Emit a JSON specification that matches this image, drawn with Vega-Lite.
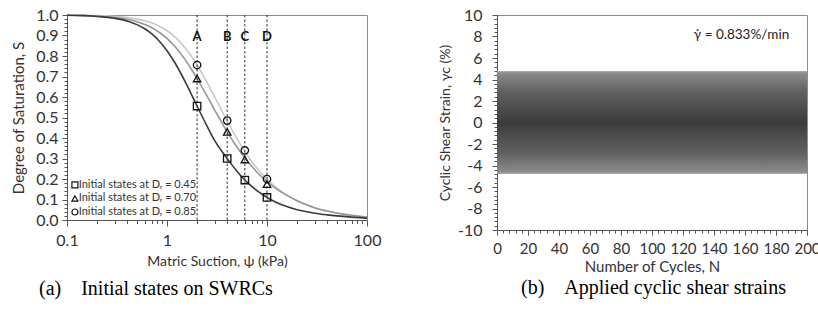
{
  "$schema": "https://vega.github.io/schema/vega-lite/v6.json",
  "background": "white",
  "padding": {"left": 11, "top": 6, "right": 0, "bottom": 0},
  "config": {
    "font": "Lato",
    "view": {"stroke": "#8c8c8c", "strokeWidth": 1},
    "concat": {"spacing": 55},
    "axis": {"grid": false, "labelFont": "Lato", "titleFont": "Lato", "labelColor": "#333", "titleColor": "#333", "titleFontWeight": "normal", "domainColor": "#555", "tickColor": "#555", "labelFlush": false},
    "title": {"font": "Liberation Serif", "fontWeight": "normal", "color": "#000", "fontSize": 20}
  },
  "datasets": {
    "curves": [
      {"Dr": "0.85", "psi": 0.1, "S": 0.999}, {"Dr": "0.85", "psi": 0.15, "S": 0.998}, {"Dr": "0.85", "psi": 0.2, "S": 0.997}, {"Dr": "0.85", "psi": 0.3, "S": 0.993}, {"Dr": "0.85", "psi": 0.4, "S": 0.988}, {"Dr": "0.85", "psi": 0.5, "S": 0.98}, {"Dr": "0.85", "psi": 0.6, "S": 0.972}, {"Dr": "0.85", "psi": 0.7, "S": 0.962}, {"Dr": "0.85", "psi": 0.8, "S": 0.95}, {"Dr": "0.85", "psi": 1, "S": 0.923}, {"Dr": "0.85", "psi": 1.2, "S": 0.893}, {"Dr": "0.85", "psi": 1.5, "S": 0.843}, {"Dr": "0.85", "psi": 1.8, "S": 0.791}, {"Dr": "0.85", "psi": 2, "S": 0.756}, {"Dr": "0.85", "psi": 2.5, "S": 0.673}, {"Dr": "0.85", "psi": 3, "S": 0.6}, {"Dr": "0.85", "psi": 3.5, "S": 0.536}, {"Dr": "0.85", "psi": 4, "S": 0.482}, {"Dr": "0.85", "psi": 5, "S": 0.397}, {"Dr": "0.85", "psi": 6, "S": 0.334}, {"Dr": "0.85", "psi": 7, "S": 0.287}, {"Dr": "0.85", "psi": 8, "S": 0.251}, {"Dr": "0.85", "psi": 10, "S": 0.199}, {"Dr": "0.85", "psi": 12, "S": 0.164}, {"Dr": "0.85", "psi": 15, "S": 0.129}, {"Dr": "0.85", "psi": 20, "S": 0.094}, {"Dr": "0.85", "psi": 25, "S": 0.073}, {"Dr": "0.85", "psi": 30, "S": 0.059}, {"Dr": "0.85", "psi": 40, "S": 0.043}, {"Dr": "0.85", "psi": 50, "S": 0.033}, {"Dr": "0.85", "psi": 70, "S": 0.022}, {"Dr": "0.85", "psi": 100, "S": 0.014},
      {"Dr": "0.70", "psi": 0.1, "S": 0.999}, {"Dr": "0.70", "psi": 0.15, "S": 0.997}, {"Dr": "0.70", "psi": 0.2, "S": 0.995}, {"Dr": "0.70", "psi": 0.3, "S": 0.988}, {"Dr": "0.70", "psi": 0.4, "S": 0.979}, {"Dr": "0.70", "psi": 0.5, "S": 0.967}, {"Dr": "0.70", "psi": 0.6, "S": 0.954}, {"Dr": "0.70", "psi": 0.7, "S": 0.939}, {"Dr": "0.70", "psi": 0.8, "S": 0.922}, {"Dr": "0.70", "psi": 1, "S": 0.886}, {"Dr": "0.70", "psi": 1.2, "S": 0.846}, {"Dr": "0.70", "psi": 1.5, "S": 0.786}, {"Dr": "0.70", "psi": 1.8, "S": 0.727}, {"Dr": "0.70", "psi": 2, "S": 0.69}, {"Dr": "0.70", "psi": 2.5, "S": 0.607}, {"Dr": "0.70", "psi": 3, "S": 0.536}, {"Dr": "0.70", "psi": 3.5, "S": 0.479}, {"Dr": "0.70", "psi": 4, "S": 0.43}, {"Dr": "0.70", "psi": 5, "S": 0.356}, {"Dr": "0.70", "psi": 6, "S": 0.303}, {"Dr": "0.70", "psi": 7, "S": 0.263}, {"Dr": "0.70", "psi": 8, "S": 0.232}, {"Dr": "0.70", "psi": 10, "S": 0.187}, {"Dr": "0.70", "psi": 12, "S": 0.157}, {"Dr": "0.70", "psi": 15, "S": 0.126}, {"Dr": "0.70", "psi": 20, "S": 0.094}, {"Dr": "0.70", "psi": 25, "S": 0.074}, {"Dr": "0.70", "psi": 30, "S": 0.06}, {"Dr": "0.70", "psi": 40, "S": 0.044}, {"Dr": "0.70", "psi": 50, "S": 0.034}, {"Dr": "0.70", "psi": 70, "S": 0.023}, {"Dr": "0.70", "psi": 100, "S": 0.015},
      {"Dr": "0.45", "psi": 0.1, "S": 0.999}, {"Dr": "0.45", "psi": 0.15, "S": 0.997}, {"Dr": "0.45", "psi": 0.2, "S": 0.993}, {"Dr": "0.45", "psi": 0.3, "S": 0.984}, {"Dr": "0.45", "psi": 0.4, "S": 0.971}, {"Dr": "0.45", "psi": 0.5, "S": 0.953}, {"Dr": "0.45", "psi": 0.6, "S": 0.933}, {"Dr": "0.45", "psi": 0.7, "S": 0.909}, {"Dr": "0.45", "psi": 0.8, "S": 0.883}, {"Dr": "0.45", "psi": 1, "S": 0.826}, {"Dr": "0.45", "psi": 1.2, "S": 0.767}, {"Dr": "0.45", "psi": 1.5, "S": 0.68}, {"Dr": "0.45", "psi": 1.8, "S": 0.602}, {"Dr": "0.45", "psi": 2, "S": 0.556}, {"Dr": "0.45", "psi": 2.5, "S": 0.46}, {"Dr": "0.45", "psi": 3, "S": 0.387}, {"Dr": "0.45", "psi": 3.5, "S": 0.338}, {"Dr": "0.45", "psi": 4, "S": 0.3}, {"Dr": "0.45", "psi": 5, "S": 0.238}, {"Dr": "0.45", "psi": 6, "S": 0.195}, {"Dr": "0.45", "psi": 7, "S": 0.165}, {"Dr": "0.45", "psi": 8, "S": 0.142}, {"Dr": "0.45", "psi": 10, "S": 0.11}, {"Dr": "0.45", "psi": 12, "S": 0.089}, {"Dr": "0.45", "psi": 15, "S": 0.069}, {"Dr": "0.45", "psi": 20, "S": 0.05}, {"Dr": "0.45", "psi": 25, "S": 0.04}, {"Dr": "0.45", "psi": 30, "S": 0.033}, {"Dr": "0.45", "psi": 40, "S": 0.025}, {"Dr": "0.45", "psi": 50, "S": 0.02}, {"Dr": "0.45", "psi": 70, "S": 0.014}, {"Dr": "0.45", "psi": 100, "S": 0.009}
    ],
    "states": [
      {"state": "Initial states at Dᵣ = 0.45", "psi": 2, "S": 0.556}, {"state": "Initial states at Dᵣ = 0.45", "psi": 4, "S": 0.3}, {"state": "Initial states at Dᵣ = 0.45", "psi": 6, "S": 0.195}, {"state": "Initial states at Dᵣ = 0.45", "psi": 10, "S": 0.11},
      {"state": "Initial states at Dᵣ = 0.70", "psi": 2, "S": 0.69}, {"state": "Initial states at Dᵣ = 0.70", "psi": 4, "S": 0.43}, {"state": "Initial states at Dᵣ = 0.70", "psi": 6, "S": 0.295}, {"state": "Initial states at Dᵣ = 0.70", "psi": 10, "S": 0.175},
      {"state": "Initial states at Dᵣ = 0.85", "psi": 2, "S": 0.756}, {"state": "Initial states at Dᵣ = 0.85", "psi": 4, "S": 0.485}, {"state": "Initial states at Dᵣ = 0.85", "psi": 6, "S": 0.34}, {"state": "Initial states at Dᵣ = 0.85", "psi": 10, "S": 0.2}
    ],
    "legendRows": [
      {"state": "Initial states at Dᵣ = 0.45", "lx": 0.12, "tx": 0.131, "ly": 0.171},
      {"state": "Initial states at Dᵣ = 0.70", "lx": 0.12, "tx": 0.131, "ly": 0.105},
      {"state": "Initial states at Dᵣ = 0.85", "lx": 0.12, "tx": 0.131, "ly": 0.039}
    ],
    "marks": [
      {"psi": 2, "label": "A"}, {"psi": 4, "label": "B"}, {"psi": 6, "label": "C"}, {"psi": 10, "label": "D"}
    ]
  },
  "hconcat": [
    {
      "width": 300,
      "height": 205,
      "title": {"text": "(a)\u2003Initial states on SWRCs", "orient": "bottom", "anchor": "start", "frame": "group", "dx": -28, "offset": 11},
      "resolve": {"axis": {"x": "independent", "y": "independent"}},
      "layer": [
        {
          "data": {"name": "curves"},
          "mark": {"type": "line", "strokeWidth": 1.6, "interpolate": "monotone"},
          "encoding": {
            "x": {"field": "psi", "type": "quantitative", "scale": {"type": "log", "domain": [0.1, 100]},
              "axis": {"orient": "bottom", "title": "Matric Suction, ψ (kPa)", "titleFontSize": 14, "titlePadding": 6, "labelFontSize": 16, "labelPadding": 6, "labelFlush": false,
                "values": [0.1, 1, 10, 100], "format": "~g", "tickSize": 6}},
            "y": {"field": "S", "type": "quantitative", "scale": {"domain": [0, 1]},
              "axis": {"orient": "left", "title": "Degree of Saturation, S", "titleFontSize": 15, "titlePadding": 9, "labelFontSize": 16, "labelPadding": 4,
                "values": [0,0.1,0.2,0.3,0.4,0.5,0.6,0.7,0.8,0.9,1], "format": ".1f", "tickSize": 5}},
            "color": {"field": "Dr", "type": "nominal", "scale": {"domain": ["0.85", "0.70", "0.45"], "range": ["#c9c9c9", "#979797", "#3a3a3a"]}, "legend": null}
          }
        },
        {
          "data": {"name": "marks"},
          "mark": {"type": "rule", "color": "#333", "strokeDash": [2.5, 2], "strokeWidth": 1},
          "encoding": {"x": {"field": "psi", "type": "quantitative",
            "axis": {"orient": "bottom", "title": null, "labels": false, "domain": false, "tickSize": 3.5,
              "values": [0.2,0.3,0.4,0.5,0.6,0.7,0.8,0.9,2,3,4,5,6,7,8,9,20,30,40,50,60,70,80,90]}}}
        },
        {
          "data": {"name": "marks"},
          "mark": {"type": "text", "fontWeight": "bold", "fontSize": 13, "color": "#111"},
          "encoding": {"x": {"field": "psi", "type": "quantitative", "axis": null},
            "y": {"datum": 0.895, "type": "quantitative",
              "axis": {"orient": "left", "title": null, "labels": false, "domain": false, "tickSize": 3,
                "values": [0,0.02,0.04,0.06,0.08,0.1,0.12,0.14,0.16,0.18,0.2,0.22,0.24,0.26,0.28,0.3,0.32,0.34,0.36,0.38,0.4,0.42,0.44,0.46,0.48,0.5,0.52,0.54,0.56,0.58,0.6,0.62,0.64,0.66,0.68,0.7,0.72,0.74,0.76,0.78,0.8,0.82,0.84,0.86,0.88,0.9,0.92,0.94,0.96,0.98,1]}},
            "text": {"field": "label"}}
        },
        {
          "data": {"name": "states"},
          "mark": {"type": "point", "filled": false, "color": "#111", "strokeWidth": 1.3, "size": 55, "opacity": 1},
          "encoding": {
            "x": {"field": "psi", "type": "quantitative", "axis": null},
            "y": {"field": "S", "type": "quantitative", "axis": null},
            "shape": {"field": "state", "type": "nominal",
              "scale": {"domain": ["Initial states at Dᵣ = 0.45", "Initial states at Dᵣ = 0.70", "Initial states at Dᵣ = 0.85"], "range": ["square", "triangle-up", "circle"]},
              "legend": null}
          }
        },
        {
          "data": {"name": "legendRows"},
          "mark": {"type": "point", "filled": false, "color": "#111", "strokeWidth": 1.2, "size": 36, "opacity": 1},
          "encoding": {
            "x": {"field": "lx", "type": "quantitative", "axis": null},
            "y": {"field": "ly", "type": "quantitative", "axis": null},
            "shape": {"field": "state", "type": "nominal", "legend": null}
          }
        },
        {
          "data": {"name": "legendRows"},
          "mark": {"type": "text", "align": "left", "baseline": "middle", "fontSize": 11, "color": "#333"},
          "encoding": {
            "x": {"field": "tx", "type": "quantitative", "axis": null},
            "y": {"field": "ly", "type": "quantitative", "axis": null},
            "text": {"field": "state"}
          }
        }
      ]
    },
    {
      "width": 310,
      "height": 215,
      "title": {"text": "(b)\u2003Applied cyclic shear strains", "orient": "bottom", "anchor": "start", "frame": "group", "dx": 24, "offset": 4},
      "resolve": {"axis": {"x": "independent", "y": "independent"}},
      "layer": [
        {
          "data": {"values": [{"n0": 0, "n1": 200, "lo": -4.8, "hi": 4.8}]},
          "mark": {"type": "rect", "color": {"gradient": "linear", "x1": 0, "y1": 0, "x2": 0, "y2": 1,
            "stops": [{"offset": 0, "color": "#b4b4b4"}, {"offset": 0.02, "color": "#8c8c8c"}, {"offset": 0.2, "color": "#616161"}, {"offset": 0.5, "color": "#3c3c3c"}, {"offset": 0.8, "color": "#616161"}, {"offset": 0.98, "color": "#8c8c8c"}, {"offset": 1, "color": "#b4b4b4"}]}},
          "encoding": {
            "x": {"field": "n0", "type": "quantitative", "scale": {"domain": [0, 200]},
              "axis": {"orient": "bottom", "title": "Number of Cycles, N", "titleFontSize": 15, "titlePadding": 3, "labelFontSize": 15, "labelPadding": 6, "labelFlush": false,
                "values": [0,20,40,60,80,100,120,140,160,180,200], "tickSize": 5}},
            "x2": {"field": "n1"},
            "y": {"field": "lo", "type": "quantitative", "scale": {"domain": [-10, 10]},
              "axis": {"orient": "left", "title": "Cyclic Shear Strain, γc (%)", "titleFontSize": 14, "titlePadding": 5, "labelFontSize": 16, "labelPadding": 10,
                "values": [-10,-8,-6,-4,-2,0,2,4,6,8,10], "labelExpr": "'' + datum.value", "tickSize": 5}},
            "y2": {"field": "hi"}
          }
        },
        {
          "data": {"values": [{"n": 127, "g": 8.1, "t": "γ̇  = 0.833%/min"}]},
          "mark": {"type": "text", "align": "left", "fontSize": 13.5, "color": "#222"},
          "encoding": {
            "x": {"field": "n", "type": "quantitative",
              "axis": {"orient": "bottom", "title": null, "labels": false, "domain": false, "tickSize": 3,
                "values": [0,4,8,12,16,20,24,28,32,36,40,44,48,52,56,60,64,68,72,76,80,84,88,92,96,100,104,108,112,116,120,124,128,132,136,140,144,148,152,156,160,164,168,172,176,180,184,188,192,196,200]}},
            "y": {"field": "g", "type": "quantitative",
              "axis": {"orient": "left", "title": null, "labels": false, "domain": false, "tickSize": 3,
                "values": [-10,-9.6,-9.2,-8.8,-8.4,-8,-7.6,-7.2,-6.8,-6.4,-6,-5.6,-5.2,-4.8,-4.4,-4,-3.6,-3.2,-2.8,-2.4,-2,-1.6,-1.2,-0.8,-0.4,0,0.4,0.8,1.2,1.6,2,2.4,2.8,3.2,3.6,4,4.4,4.8,5.2,5.6,6,6.4,6.8,7.2,7.6,8,8.4,8.8,9.2,9.6,10]}},
            "text": {"field": "t"}
          }
        }
      ]
    }
  ]
}
